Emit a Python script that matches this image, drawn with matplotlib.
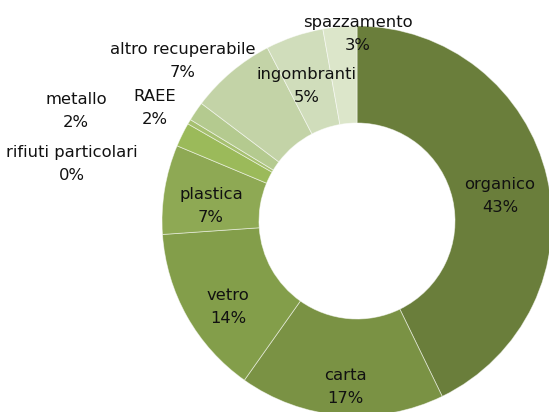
import matplotlib
matplotlib.use("Agg")
import matplotlib.pyplot as plt

# dati (percentuali)
categorie = ["organico", "carta", "vetro", "plastica", "metallo",
             "rifiuti particolari", "RAEE", "altro recuperabile",
             "ingombranti", "spazzamento"]
valori = [42.8, 17.0, 14.1, 7.4, 2.0, 0.4, 1.6, 7.1, 4.8, 2.8]

colori = ["#6A7E3B", "#7A9244", "#839E4A", "#8EA954", "#9BBA5A",
          "#A6C070", "#B4CA8F", "#C3D3A7", "#D0DDBB", "#DCE6CA"]

# posizione delle etichette in pixel (x, y dall'alto)
pos_etichette = {
    "organico": (500, 196),
    "carta": (345, 387),
    "vetro": (228, 307),
    "plastica": (211, 206),
    "metallo": (76, 111),
    "rifiuti particolari": (72, 164),
    "RAEE": (155, 108),
    "altro recuperabile": (183, 61),
    "ingombranti": (307, 86),
    "spazzamento": (358, 34),
}

W, H = 549, 412
fig = plt.figure(figsize=(W / 100, H / 100), dpi=100)
ax = fig.add_axes([0, 0, 1, 1])

cx, cy = 357, H - 221
R_out, R_in = 195, 98

ax.pie(valori, colors=colori, startangle=90, counterclock=False,
       center=(cx, cy), radius=R_out,
       wedgeprops=dict(width=R_out - R_in, edgecolor=(1, 1, 1, 0.55),
                       linewidth=0.6))

tot = sum(valori)
for nome, v in zip(categorie, valori):
    x, y = pos_etichette[nome]
    ax.text(x, H - y, f"{nome}\n{round(v / tot * 100):.0f}%",
            ha="center", va="center", fontsize=11.8, color="#111111",
            family="DejaVu Sans", linespacing=1.6)

ax.set_xlim(0, W)
ax.set_ylim(0, H)
ax.set_aspect("equal")
ax.axis("off")

fig.savefig("out.png", dpi=100)
